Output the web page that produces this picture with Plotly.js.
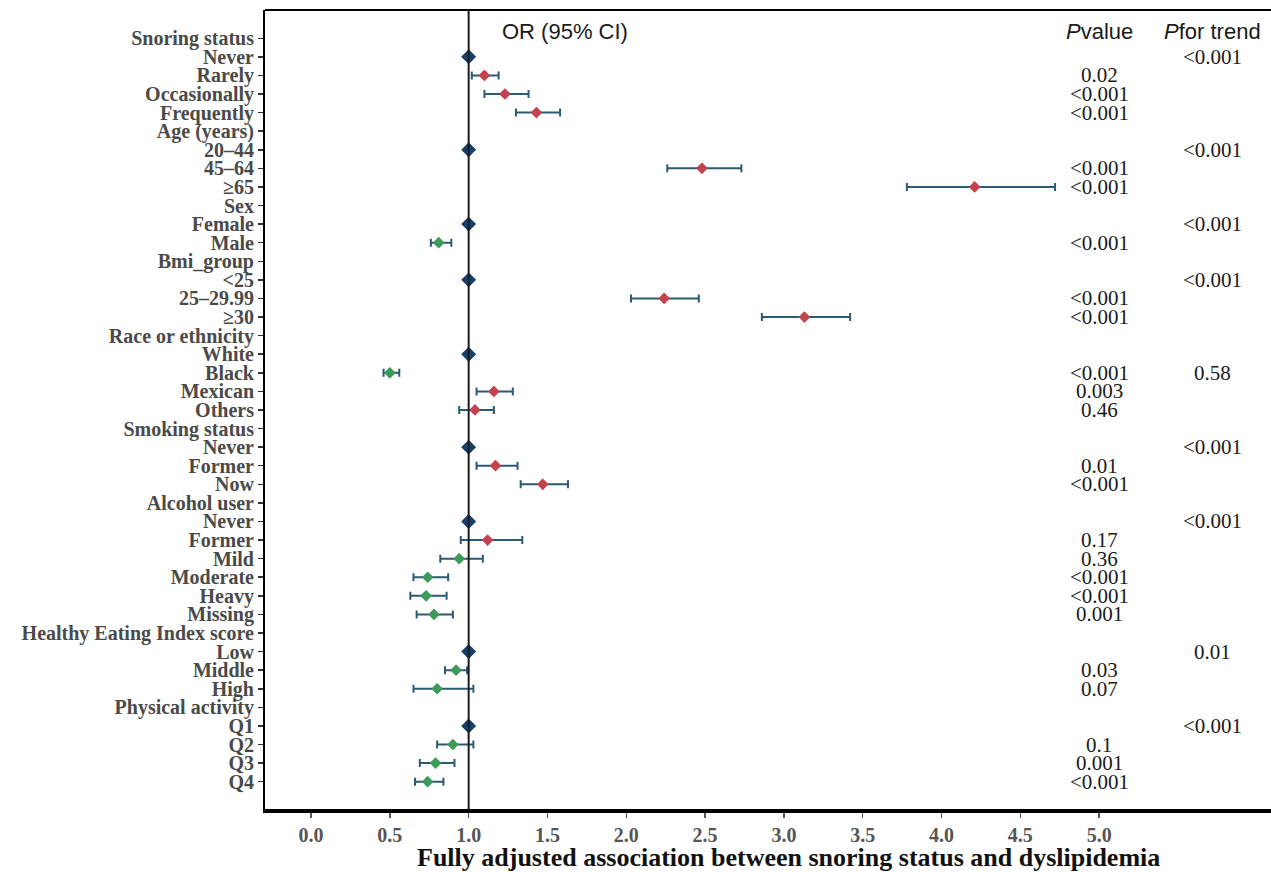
<!DOCTYPE html>
<html><head><meta charset="utf-8">
<script src="https://cdn.plot.ly/plotly-3.0.1.min.js"></script>
<style>html,body{margin:0;padding:0;background:#fff}</style>
</head><body><div id="chart" style="width:1271px;height:872px"></div>
<script>
const labels = ["Snoring status","Never","Rarely","Occasionally","Frequently","Age (years)","20–44","45–64","≥65","Sex","Female","Male","Bmi_group","<25","25–29.99","≥30","Race or ethnicity","White","Black","Mexican","Others","Smoking status","Never","Former","Now","Alcohol user","Never","Former","Mild","Moderate","Heavy","Missing","Healthy Eating Index score","Low","Middle","High","Physical activity","Q1","Q2","Q3","Q4"];
const orValues = [null,1,1.10,1.23,1.43,null,1,2.48,4.21,null,1,0.81,null,1,2.24,3.13,null,1,0.50,1.16,1.04,null,1,1.17,1.47,null,1,1.12,0.94,0.74,0.73,0.78,null,1,0.92,0.80,null,1,0.90,0.79,0.74];
const ciLower = [null,null,1.02,1.10,1.30,null,null,2.26,3.78,null,null,0.76,null,null,2.03,2.86,null,null,0.46,1.05,0.94,null,null,1.05,1.33,null,null,0.95,0.82,0.65,0.63,0.67,null,null,0.85,0.65,null,null,0.80,0.69,0.66];
const ciUpper = [null,null,1.19,1.38,1.58,null,null,2.73,4.72,null,null,0.89,null,null,2.46,3.42,null,null,0.56,1.28,1.16,null,null,1.31,1.63,null,null,1.34,1.09,0.87,0.86,0.90,null,null,0.99,1.03,null,null,1.03,0.91,0.84];
const pValues = ["","","0.02","<0.001","<0.001","","","<0.001","<0.001","","","<0.001","","","<0.001","<0.001","","","<0.001","0.003","0.46","","","0.01","<0.001","","","0.17","0.36","<0.001","<0.001","0.001","","","0.03","0.07","","","0.1","0.001","<0.001"];
const pTrend = ["","<0.001","","","","","<0.001","","","","<0.001","","","<0.001","","","","","0.58","","","","<0.001","","","","<0.001","","","","","","","0.01","","","","<0.001","","",""];
const xTickVals = [0,0.5,1,1.5,2,2.5,3,3.5,4,4.5,5];
const xTickText = ["0.0","0.5","1.0","1.5","2.0","2.5","3.0","3.5","4.0","4.5","5.0"];
const headerOR = "OR (95% CI)";
const headerP = "<i>P</i>value";
const headerTrend = "<i>P</i>for trend";
const xTitle = "Fully adjusted association between snoring status and dyslipidemia";

const rows = labels.map((_, i) => i);
function group(test, color, size, withErr) {
  const xs = [], ys = [], ep = [], em = [];
  orValues.forEach((v, i) => {
    if (v !== null && test(v)) {
      xs.push(v); ys.push(i);
      ep.push(ciUpper[i] !== null ? ciUpper[i] - v : 0);
      em.push(ciLower[i] !== null ? v - ciLower[i] : 0);
    }
  });
  const t = {x: xs, y: ys, type: 'scatter', mode: 'markers', hoverinfo: 'x+y',
    marker: {symbol: 'diamond', size: size, color: color, line: {width: 0}}, showlegend: false};
  if (withErr) t.error_x = {type: 'data', symmetric: false, array: ep, arrayminus: em,
    color: '#2c5a74', thickness: 2, width: 4};
  return t;
}
const traces = [
  group(v => v > 1, '#c2424f', 9, true),
  group(v => v < 1, '#3e9a5b', 9, true),
  group(v => v === 1, '#163f6b', 11.5, false)
];

const serif = 'Liberation Serif, Times New Roman, serif';
const sans = 'Liberation Sans, Arial, sans-serif';
const annotations = [];
pValues.forEach((p, i) => { if (p) annotations.push({x: 5.0, y: i, xref: 'x', yref: 'y', text: p.replace('<','&lt;'), showarrow: false, xanchor: 'center', yanchor: 'middle', font: {family: serif, size: 21, color: '#1a1a1a'}}); });
pTrend.forEach((p, i) => { if (p) annotations.push({x: 5.72, y: i, xref: 'x', yref: 'y', text: p.replace('<','&lt;'), showarrow: false, xanchor: 'center', yanchor: 'middle', font: {family: serif, size: 21, color: '#1a1a1a'}}); });
annotations.push({x: 1.61, y: -0.34, xref: 'x', yref: 'y', text: headerOR, showarrow: false, xanchor: 'center', yanchor: 'middle', font: {family: sans, size: 22, color: '#1a1a1a'}});
annotations.push({x: 5.0, y: -0.34, xref: 'x', yref: 'y', text: headerP, showarrow: false, xanchor: 'center', yanchor: 'middle', font: {family: sans, size: 22, color: '#1a1a1a'}});
annotations.push({x: 5.72, y: -0.34, xref: 'x', yref: 'y', text: headerTrend, showarrow: false, xanchor: 'center', yanchor: 'middle', font: {family: sans, size: 22, color: '#1a1a1a'}});
annotations.push({x: 0.52, y: -0.061, xref: 'paper', yref: 'paper', text: '<b>' + xTitle + '</b>', showarrow: false, xanchor: 'center', yanchor: 'middle', font: {family: serif, size: 26, color: '#111'}});

const layout = {
  width: 1271, height: 872,
  margin: {l: 265, r: 0, t: 10, b: 63},
  paper_bgcolor: '#fff', plot_bgcolor: '#fff',
  xaxis: {range: [-0.292, 6.09], tickmode: 'array', tickvals: xTickVals, ticktext: xTickText,
    showgrid: false, zeroline: false, showline: true, linecolor: '#000', linewidth: 3.5,
    ticks: 'outside', ticklen: 5, tickwidth: 1.5, tickcolor: '#555',
    tickfont: {family: serif, size: 20, color: '#555', weight: 'bold'}},
  yaxis: {range: [41.47, -1.52], tickmode: 'array', tickvals: rows, ticktext: labels,
    showgrid: false, zeroline: false, showline: true, linecolor: '#000', linewidth: 2,
    ticks: 'outside', ticklen: 5, tickwidth: 1.5, tickcolor: '#333',
    tickfont: {family: serif, size: 20, color: '#4a4a4a', weight: 'bold'}},
  shapes: [
    {type: 'line', xref: 'x', yref: 'paper', x0: 1, x1: 1, y0: 0, y1: 1, line: {color: '#1a1a1a', width: 2}},
    {type: 'line', xref: 'paper', yref: 'paper', x0: 0, x1: 1, y0: 1, y1: 1, line: {color: '#000', width: 2}}
  ],
  annotations: annotations
};
Plotly.newPlot('chart', traces, layout, {displayModeBar: false, staticPlot: true});
</script>
</body></html>
